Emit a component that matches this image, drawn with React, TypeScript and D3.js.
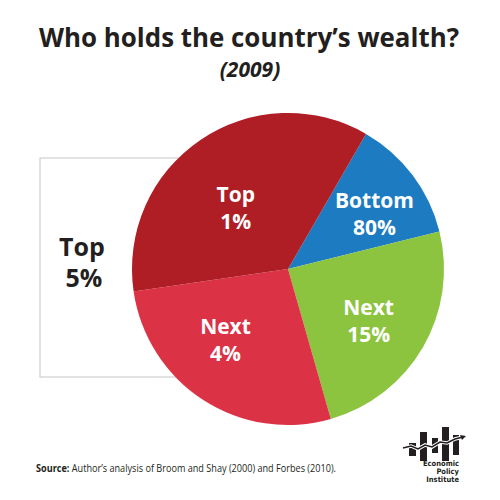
import React from "react";
import * as d3 from "d3";

const groups = ["Bottom 80%", "Next 15%", "Next 4%", "Top 1%"];
const shares = [12.8, 24.4, 27.1, 35.6];
const labelLines = [["Bottom", "80%"], ["Next", "15%"], ["Next", "4%"], ["Top", "1%"]];
const colors = ["#1C7BC1", "#8CC43F", "#DC3246", "#AF1D25"];
const title = "Who holds the country\u2019s wealth?";
const subtitle = "(2009)";
const sourceBold = "Source:";
const sourceText = " Author\u2019s analysis of Broom and Shay (2000) and Forbes (2010).";
const logoWords = ["Economic", "Policy", "Institute"];

// label placement styling (radius as fraction of R, angular nudge in degrees)
const labelRadius = [0.66, 0.61, 0.6, 0.52];
const labelNudge = [4, 2, 9, -6];

const W = 500, H = 500;
const cx = 288, cy = 269, R = 156;
const font = "'Open Sans', 'Liberation Sans', sans-serif";

export default function App() {
  const pie = d3
    .pie<number>()
    .sort(null)
    .startAngle((30 * Math.PI) / 180)
    .endAngle((390 * Math.PI) / 180);
  const arcs = pie(shares);
  const arc = d3.arc<d3.PieArcDatum<number>>().innerRadius(0).outerRadius(R);

  return (
    <svg
      width={W}
      height={H}
      viewBox={`0 0 ${W} ${H}`}
      style={{ position: "absolute", left: 0, top: 0, background: "#fff" }}
    >
      <rect x={0} y={0} width={W} height={H} fill="#fff" />
      <text x={249} y={47} textAnchor="middle" fontFamily={font} fontWeight={700} fontSize={27.5} fill="#231F20" textLength={420} lengthAdjust="spacingAndGlyphs">
        {title}
      </text>
      <text x={250} y={77} textAnchor="middle" fontFamily={font} fontWeight={700} fontStyle="italic" fontSize={21} fill="#231F20">
        {subtitle}
      </text>

      {/* Top 5% bracket box */}
      <rect x={40} y={158} width={180} height={219} fill="#fff" stroke="#CFCFCF" strokeWidth={1.2} />
      <text x={82} y={256} textAnchor="middle" fontFamily={font} fontWeight={700} fontSize={25} fill="#231F20">Top</text>
      <text x={84} y={287} textAnchor="middle" fontFamily={font} fontWeight={700} fontSize={25} fill="#231F20">5%</text>

      <g transform={`translate(${cx},${cy})`}>
        {arcs.map((a, i) => (
          <path key={groups[i]} d={arc(a) || ""} fill={colors[i]} />
        ))}
        {arcs.map((a, i) => {
          const ang = (a.startAngle + a.endAngle) / 2 + (labelNudge[i] * Math.PI) / 180;
          const r = R * labelRadius[i];
          const lx = r * Math.sin(ang);
          const ly = -r * Math.cos(ang);
          return (
            <text key={"l" + groups[i]} textAnchor="middle" fontFamily={font} fontWeight={700} fontSize={21} fill="#fff">
              <tspan x={lx} y={ly - 5}>{labelLines[i][0]}</tspan>
              <tspan x={lx} y={ly + 22}>{labelLines[i][1]}</tspan>
            </text>
          );
        })}
      </g>

      <text x={36} y={472} fontFamily={font} fontSize={10} fill="#231F20" textLength={300} lengthAdjust="spacingAndGlyphs">
        <tspan fontWeight={700}>{sourceBold}</tspan>
        <tspan>{sourceText}</tspan>
      </text>

      {/* EPI logo */}
      <g fill="#231F20">
        <rect x={409} y={443} width={7} height={13} />
        <rect x={420} y={432} width={7} height={29} />
        <rect x={432} y={438} width={6} height={15} />
        <rect x={442} y={427} width={7} height={34} />
        <rect x={453} y={435} width={6} height={20} />
        <polyline
          points="403,448 411,446 418,449 425,445 432,447 440,442 447,443 455,439 463,437"
          fill="none"
          stroke="#fff"
          strokeWidth={3.5}
        />
        <polyline
          points="403,448 411,446 418,449 425,445 432,447 440,442 447,443 455,439 463,437"
          fill="none"
          stroke="#231F20"
          strokeWidth={1.5}
        />
        <path d="M466,436 L460,435 L462,440 Z" />
        {logoWords.map((w, i) => (
          <text key={w} x={459} y={466 + i * 8} textAnchor="end" fontFamily="'Liberation Sans Narrow', 'DejaVu Sans Condensed', sans-serif" fontWeight={700} fontSize={7.5}>
            {w}
          </text>
        ))}
      </g>
    </svg>
  );
}
